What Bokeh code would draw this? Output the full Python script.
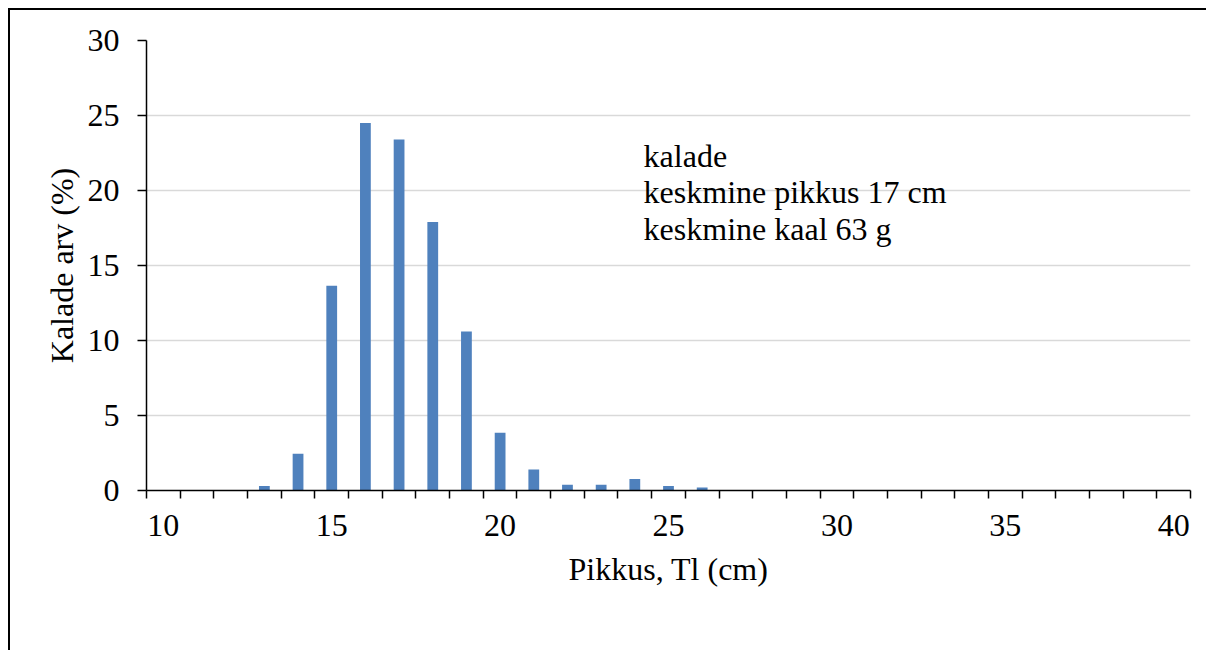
from bokeh.plotting import figure
from bokeh.models import FixedTicker, Range1d
from bokeh.core.properties import value
from bokeh.embed import file_html
from bokeh.resources import INLINE

# Data
lengths = list(range(10, 41))
percent = [0, 0, 0,
           0.3, 2.45, 13.65, 24.5, 23.4, 17.9, 10.6, 3.85, 1.4, 0.38, 0.38, 0.76, 0.3, 0.2,
           0, 0, 0, 0, 0, 0, 0, 0, 0, 0, 0, 0, 0, 0]
x_tick_labels = [10, 15, 20, 25, 30, 35, 40]
y_ticks = [0, 5, 10, 15, 20, 25, 30]
note_lines = ["kalade", "keskmine pikkus 17 cm", "keskmine kaal 63 g"]

FONT = "Liberation Serif"

p = figure(width=1198, height=642, output_backend="svg", toolbar_location=None,
           x_range=Range1d(9.5, 40.5), y_range=Range1d(0, 30),
           min_border_left=136, min_border_right=18, min_border_top=30, min_border_bottom=162,
           styles={"border-left": "2px solid #000", "border-top": "2px solid #000",
                   "margin-left": "8px", "margin-top": "8px"})
p.outline_line_color = None
p.background_fill_color = "white"
p.border_fill_color = "white"

p.vbar(x=lengths, top=percent, width=0.32, bottom=0, fill_color="#4f81bd", line_color=None)

# X axis
p.xaxis.ticker = FixedTicker(ticks=x_tick_labels, minor_ticks=[9.5 + i for i in range(32)])
p.xaxis.major_tick_out = 0
p.xaxis.major_tick_in = 0
p.xaxis.minor_tick_out = 8
p.xaxis.minor_tick_in = 0
p.xaxis.minor_tick_line_color = "black"
p.xaxis.minor_tick_line_width = 1.5
p.xaxis.axis_line_color = "black"
p.xaxis.axis_line_width = 1.5
p.xaxis.major_label_standoff = 16
p.xaxis.axis_label = "Pikkus, Tl (cm)"
p.xaxis.axis_label_standoff = 12

# Y axis
p.yaxis.ticker = FixedTicker(ticks=y_ticks, minor_ticks=[])
p.yaxis.major_tick_out = 9
p.yaxis.major_tick_in = 0
p.yaxis.major_tick_line_color = "black"
p.yaxis.major_tick_line_width = 1.5
p.yaxis.axis_line_color = "black"
p.yaxis.axis_line_width = 1.5
p.yaxis.major_label_standoff = 18
p.yaxis.axis_label = "Kalade arv (%)"
p.yaxis.axis_label_standoff = 5

for ax in (p.xaxis, p.yaxis):
    ax.major_label_text_font = FONT
    ax.major_label_text_font_size = "32px"
    ax.major_label_text_color = "black"
    ax.axis_label_text_font = FONT
    ax.axis_label_text_font_size = "32px"
    ax.axis_label_text_font_style = "normal"
    ax.axis_label_text_color = "black"

p.xgrid.grid_line_color = None
p.ygrid.grid_line_color = "#d9d9d9"
p.ygrid.grid_line_width = 1.5

# Text block
p.text(x=[24.26, 24.26, 24.26], y=[22.33, 19.88, 17.43], text=note_lines,
       text_font=value(FONT), text_font_size="32px", text_color="black",
       text_baseline="alphabetic", text_align="left")

open("out.html", "w").write(file_html(p, INLINE))
